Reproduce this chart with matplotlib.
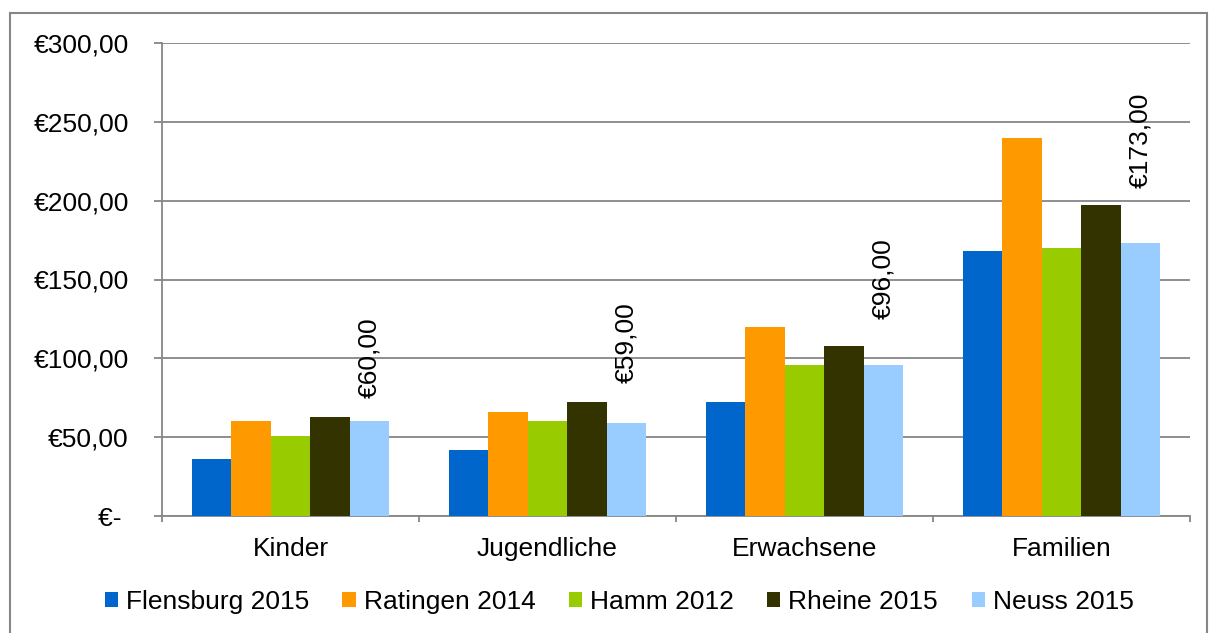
import matplotlib
matplotlib.use("Agg")
import matplotlib.pyplot as plt
import numpy as np
from matplotlib.patches import Rectangle, Patch

plt.rcParams['font.family'] = ['Liberation Sans', 'DejaVu Sans']

categories = ["Kinder", "Jugendliche", "Erwachsene", "Familien"]
series = ["Flensburg 2015", "Ratingen 2014", "Hamm 2012", "Rheine 2015", "Neuss 2015"]
flensburg = [36, 42, 72, 168]
ratingen = [60, 66, 120, 240]
hamm = [51, 60, 96, 170]
rheine = [63, 72, 108, 197]
neuss = [60, 59, 96, 173]
values = [flensburg, ratingen, hamm, rheine, neuss]
colors = ["#0066CC", "#FF9900", "#99CC00", "#333300", "#99CCFF"]
yticks = [0, 50, 100, 150, 200, 250, 300]
ytick_labels = ["€- ", "€50,00", "€100,00", "€150,00", "€200,00", "€250,00", "€300,00"]
label_pads = [17, 29, 33, 40]  # points between bar top and rotated label

W, H = 1209, 633
fig = plt.figure(figsize=(W / 100, H / 100), dpi=100)
ax = fig.add_axes([162 / W, 1 - 516 / H, (1190 - 162) / W, (516 - 43) / H])

fs = 19
gray = "#868686"
n = len(series)
bw = 0.77 / n
x = np.arange(len(categories))
for i, (name, vals, c) in enumerate(zip(series, values, colors)):
    pos = x - 0.77 / 2 + bw * (i + 0.5)
    ax.bar(pos, vals, width=bw, color=c, label=name, linewidth=0, zorder=3)
    if i == n - 1:
        for p, v, pad in zip(pos, vals, label_pads):
            s = "€" + f"{v:.2f}".replace(".", ",")
            ax.annotate(s, (p, v), xytext=(0, pad), textcoords="offset points",
                        rotation=90, ha="center", va="bottom", fontsize=fs, zorder=4)

ax.set_xlim(-0.5, len(categories) - 0.5)
ax.set_ylim(0, 300)
ax.set_yticks(yticks)
ax.set_yticklabels(ytick_labels, fontsize=fs)
ax.yaxis.grid(True, color=gray, linewidth=1.3, zorder=0)
ax.set_xticks(x)
ax.set_xticklabels(categories, fontsize=fs)
ax.set_xticks(np.arange(len(categories) + 1) - 0.5, minor=True)
ax.tick_params(axis="x", which="major", length=0, pad=15)
ax.tick_params(axis="x", which="minor", length=4, color=gray, width=1.3)
ax.tick_params(axis="y", length=6, color=gray, width=1.3, pad=18)
for sp in ["top", "right"]:
    ax.spines[sp].set_visible(False)
for sp in ["left", "bottom"]:
    ax.spines[sp].set_color(gray)
    ax.spines[sp].set_linewidth(1.3)

handles = [Patch(facecolor=c, edgecolor="none") for c in colors]
fig.legend(handles, series, loc="center", bbox_to_anchor=(0.512, 1 - 602 / H), ncol=5,
           frameon=False, fontsize=fs, handlelength=0.5, handleheight=0.5,
           handletextpad=0.3, columnspacing=1.27)

fig.patches.append(Rectangle((10 / W, -0.01), (1207 - 10) / W, 1.01 - 13 / H,
                             transform=fig.transFigure, fill=False,
                             edgecolor=gray, linewidth=1.5))

fig.savefig("out.png", dpi=100)
